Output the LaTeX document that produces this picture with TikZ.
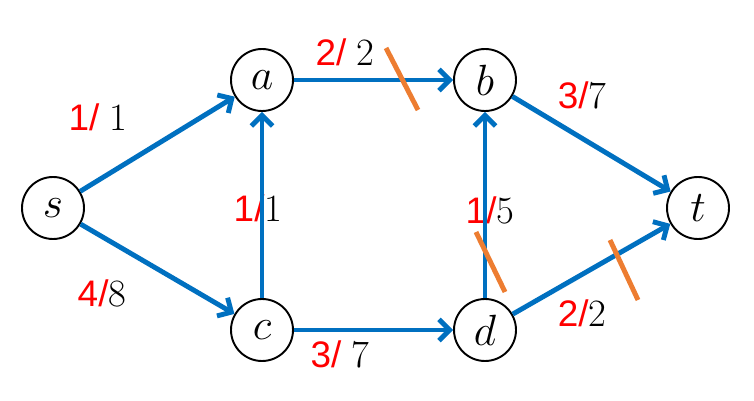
\documentclass[tikz,border=0pt]{standalone}
\usepackage{fontspec}
\usepackage{tikz}
\usetikzlibrary{arrows.meta,positioning}
\newfontfamily\redfont{Liberation Sans}
\definecolor{edgeblue}{RGB}{0,112,192}
\definecolor{cutorange}{RGB}{237,125,49}
\newcommand{\fc}[1]{{\redfont\fontsize{21}{24}\selectfont\color{red}#1}}
\tikzstyle{vertex} = [circle, draw, line width=1.1pt, minimum size=1.24cm,
    inner sep=0pt, font=\fontsize{25}{28}\selectfont]
\tikzstyle{flow} = [inner sep=0pt, font=\fontsize{22}{24}\selectfont]
\tikzstyle{arc} = [draw=edgeblue, line width=2.8pt,
    -{Straight Barb[length=6pt,width=12pt]}]
\tikzstyle{cut} = [draw=cutorange, line width=2.8pt]

\begin{document}
\begin{tikzpicture}[node distance = 4cm]
  \useasboundingbox (-1.06,-3.84) rectangle (14.02,4.16);
  % Place nodes
  \node [vertex] (s) {$s$};
  \node [vertex, right of=s, node distance=4.18cm, yshift=2.56cm] (a) {$a$};
  \node [vertex, right of=a, node distance=4.46cm] (b) {$b$};
  \node [vertex, below of=a, node distance=5cm] (c) {$c$};
  \node [vertex, below of=b, node distance=5cm] (d) {$d$};
  \node [vertex, right of=b, node distance=4.26cm, yshift=-2.56cm] (t) {$t$};
  % Flow labels
  \node [flow] (fsa) at (0.90,1.82) {\fc{1/ }1};
  \node [flow] (fab) at (5.84,3.12) {\fc{2/ }2};
  \node [flow] (fbt) at (10.58,2.26) {\fc{3/}7};
  \node [flow] (fca) at (4.10,0) {\fc{1/}1};
  \node [flow] (fdb) at (8.74,-0.04) {\fc{1/}5};
  \node [flow] (fsc) at (0.98,-1.70) {\fc{4/}8};
  \node [flow] (fcd) at (5.74,-2.92) {\fc{3/ }7};
  \node [flow] (fdt) at (10.58,-2.10) {\fc{2/}2};
  % Draw edges
  \draw [arc] (s) -- (a);
  \draw [arc] (s) -- (c);
  \draw [arc] (c) -- (a);
  \draw [arc] (a) -- (b);
  \draw [arc] (c) -- (d);
  \draw [arc] (d) -- (b);
  \draw [arc] (b) -- (t);
  \draw [arc] (d) -- (t);
  % Saturated edges
  \coordinate (ab1) at (6.66,3.20);
  \coordinate (ab2) at (7.30,1.96);
  \coordinate (db1) at (8.46,-0.48);
  \coordinate (db2) at (9.04,-1.68);
  \coordinate (dt1) at (11.14,-0.64);
  \coordinate (dt2) at (11.70,-1.84);
  \draw [cut] (ab1) -- (ab2);
  \draw [cut] (db1) -- (db2);
  \draw [cut] (dt1) -- (dt2);
\end{tikzpicture}
\end{document}
